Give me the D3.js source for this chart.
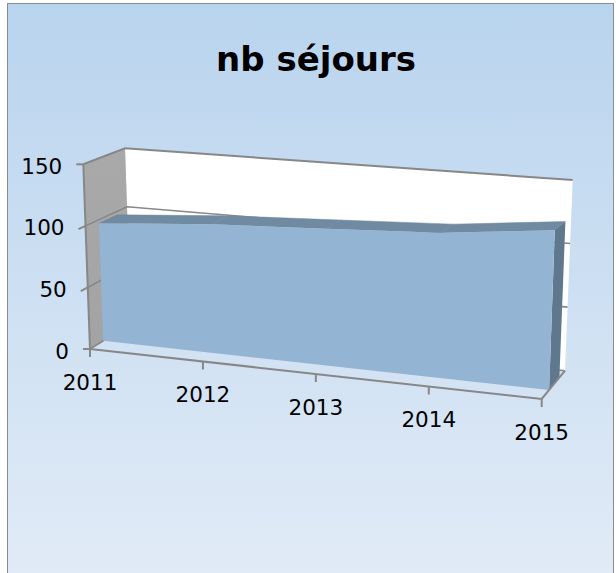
<!DOCTYPE html>
<html><head><meta charset="utf-8">
<script src="https://cdn.jsdelivr.net/npm/d3@7"></script>
<style>html,body{margin:0;padding:0;background:#fff;}svg{display:block;}</style>
</head><body>
<script>
// ---- data ----
const categories = ["2011", "2012", "2013", "2014", "2015"];
const values = [97, 104, 108, 112, 121];
const valueTicks = [0, 50, 100, 150];
const gridValues = [50, 100];
const title = "nb séjours";

// ---- layout ----
const W = 616, H = 573;
const svg = d3.select("body").append("svg").attr("width", W).attr("height", H);
const defs = svg.append("defs");
const g1 = defs.append("linearGradient").attr("id", "bg").attr("x1", 0).attr("y1", 0).attr("x2", 0).attr("y2", 1);
g1.append("stop").attr("offset", "0%").attr("stop-color", "#b9d4ee");
g1.append("stop").attr("offset", "100%").attr("stop-color", "#e3ecf7");
const g2 = defs.append("linearGradient").attr("id", "side").attr("x1", 0).attr("y1", 0).attr("x2", 0).attr("y2", 1);
g2.append("stop").attr("offset", "0%").attr("stop-color", "#a9a9a9");
g2.append("stop").attr("offset", "100%").attr("stop-color", "#a3a3a3");

svg.append("rect").attr("x", 7.5).attr("y", 3.5).attr("width", 606).attr("height", 600)
  .attr("fill", "url(#bg)").attr("stroke", "#8c8c8c").attr("stroke-width", 1);

svg.append("text").attr("x", 316).attr("y", 71).attr("text-anchor", "middle")
  .attr("font-family", "DejaVu Sans, sans-serif").attr("font-weight", "bold")
  .attr("font-size", 34).attr("fill", "#000").text(title);

// ---- 3D projection (box corners in screen space) ----
const box = {
  F00: [90, 349], F01: [83.3, 164.3], F10: [541.7, 399], F11: [548.3, 197.4],
  B00: [131, 323.5], B01: [125, 148.3], B10: [565, 370.7], B11: [572.7, 180]
};
const uScale = d3.scalePoint().domain(categories).range([0, 1]);
const vScale = d3.scaleLinear().domain([0, 150]).range([0, 1]);
function lerp(p, q, t) { return [p[0] + (q[0] - p[0]) * t, p[1] + (q[1] - p[1]) * t]; }
function proj(u, v, w) {
  const f = lerp(lerp(box.F00, box.F10, u), lerp(box.F01, box.F11, u), v);
  const b = lerp(lerp(box.B00, box.B10, u), lerp(box.B01, box.B11, u), v);
  return lerp(f, b, w);
}
const line = d3.line();
const poly = pts => line(pts) + "Z";
const axisColor = "#878787";

// back wall
svg.append("path").attr("d", poly([proj(0,0,1), proj(1,0,1), proj(1,1,1), proj(0,1,1)])).attr("fill", "#ffffff");
// side wall
svg.append("path").attr("d", poly([proj(0,0,0), proj(0,0,1), proj(0,1,1), proj(0,1,0)])).attr("fill", "url(#side)");

// gridlines on walls
gridValues.forEach(d => {
  const v = vScale(d);
  svg.append("path").attr("d", line([proj(0,v,0), proj(0,v,1), proj(1,v,1)]))
    .attr("fill", "none").attr("stroke", axisColor).attr("stroke-width", 1.6);
});
// wall top edges
svg.append("path").attr("d", line([proj(0,1,0), proj(0,1,1), proj(1,1,1)]))
  .attr("fill", "none").attr("stroke", axisColor).attr("stroke-width", 2);
// floor edges
svg.append("path").attr("d", line([proj(0,0,1), proj(1,0,1)]))
  .attr("fill", "none").attr("stroke", axisColor).attr("stroke-width", 1.6);
svg.append("path").attr("d", line([proj(0,0,0), proj(0,0,1)]))
  .attr("fill", "none").attr("stroke", axisColor).attr("stroke-width", 1.6);

// ---- area series ----
const wa = 0.32, wb = 0.76;
const pts = categories.map((c, i) => ({u: uScale(c), v: vScale(values[i])}));
const aColor = {front: "#93b4d2", top: "#6f8aa1", side: "#5f788d"};
for (let i = 0; i < pts.length - 1; i++) {
  const p = pts[i], q = pts[i + 1];
  svg.append("path").attr("d", poly([proj(p.u,p.v,wa), proj(q.u,q.v,wa), proj(q.u,q.v,wb), proj(p.u,p.v,wb)]))
    .attr("fill", aColor.top).attr("stroke", aColor.top).attr("stroke-width", 0.5);
}
const last = pts[pts.length - 1];
svg.append("path").attr("d", poly([proj(1,0,wa), proj(1,0,wb), proj(1,last.v,wb), proj(1,last.v,wa)]))
  .attr("fill", aColor.side);
const frontPts = pts.map(p => proj(p.u, p.v, wa)).concat([proj(1,0,wa), proj(0,0,wa)]);
svg.append("path").attr("d", poly(frontPts)).attr("fill", aColor.front);

// ---- axes ----
svg.append("path").attr("d", line([proj(0,0,0), proj(1,0,0), proj(1,0,1)]))
  .attr("fill", "none").attr("stroke", axisColor).attr("stroke-width", 2);
svg.append("path").attr("d", line([proj(0,0,0), proj(0,1,0)]))
  .attr("fill", "none").attr("stroke", axisColor).attr("stroke-width", 2);

const fontFam = "DejaVu Sans, sans-serif";
valueTicks.forEach(d => {
  const v = vScale(d);
  const p = proj(0, v, 0);
  const dir = proj(0, v, -0.17);
  const end = (d === 0 || d === 150) ? [p[0] - 7, p[1]] : dir;
  svg.append("line").attr("x1", end[0]).attr("x2", p[0]).attr("y1", end[1]).attr("y2", p[1])
    .attr("stroke", axisColor).attr("stroke-width", 2);
  svg.append("text").attr("x", p[0] - 21).attr("y", p[1] + 2).attr("text-anchor", "end")
    .attr("dominant-baseline", "central").attr("font-family", fontFam).attr("font-size", 21.5)
    .attr("fill", "#000").text(d);
});
categories.forEach(c => {
  const p = proj(uScale(c), 0, 0);
  svg.append("line").attr("x1", p[0]).attr("x2", p[0]).attr("y1", p[1]).attr("y2", p[1] + 8)
    .attr("stroke", axisColor).attr("stroke-width", 2);
  svg.append("text").attr("x", p[0]).attr("y", p[1] + 33).attr("text-anchor", "middle")
    .attr("dominant-baseline", "central").attr("font-family", fontFam).attr("font-size", 21.5)
    .attr("fill", "#000").text(c);
});
</script>
</body></html>
